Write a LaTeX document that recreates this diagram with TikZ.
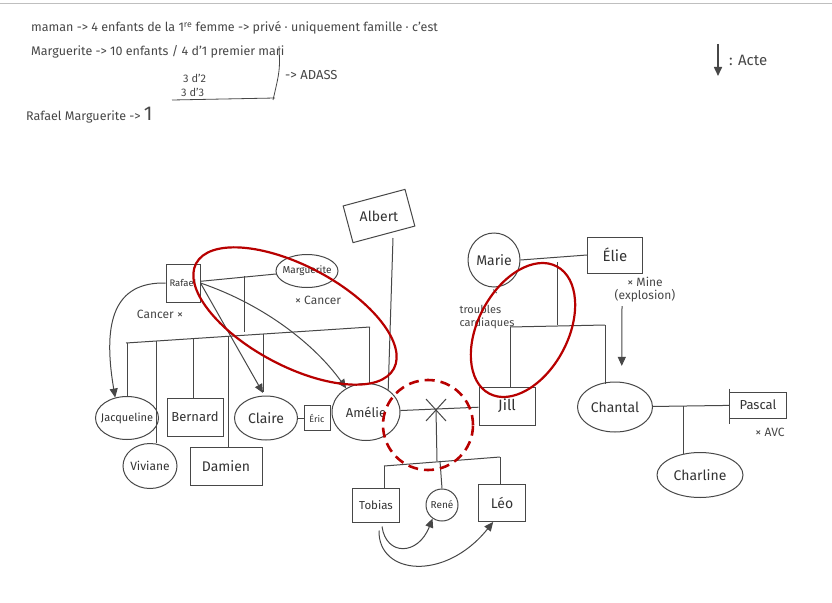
\documentclass[tikz,border=0pt]{standalone}
\usepackage{fontspec}
\setmainfont{Fira Sans}
\usetikzlibrary{shapes.geometric,arrows.meta,calc}
\newcommand{\nm}[1]{\makebox[0pt]{#1}}
\newcommand{\fs}[1]{\fontsize{#1}{#1}\selectfont}
\begin{document}
\begin{tikzpicture}[x=1pt,y=-1pt,
  ink/.style={draw=black!72, line width=1pt},
  person/.style={ink, text=black!80, font=\fs{13}, inner sep=0pt},
  male/.style={person, rectangle},
  female/.style={person, ellipse},
  act/.style={ink, -{Triangle[length=9pt,width=8pt]}},
  note/.style={text=black!72, font=\fs{12}, inner sep=1pt},
  topnote/.style={text=black!72, font=\fs{12.5}, inner sep=1pt, anchor=west},
  redring/.style={draw=red!72!black, line width=2.2pt}]
\useasboundingbox (0,0) rectangle (832,602);
\fill[white] (0,0) rectangle (832,602);
\draw[black!25, line width=1pt] (0,4) -- (832,4);

% ---- top notes ----
\node[topnote] (n1) at (30,28) {maman -> 4 enfants de la 1\textsuperscript{re} femme -> privé · uniquement famille · c'est};
\node[topnote] (n2) at (30,52) {Marguerite -> 10 enfants / 4 d'1 premier mari};
\node[topnote, font=\fs{11}] (n3) at (182,78) {3 d'2};
\node[topnote, font=\fs{11}] (n4) at (180,92) {3 d'3};
\coordinate (ul1) at (172,100);
\coordinate (ul2) at (275,98);
\draw[ink, line width=0.8pt] (ul1) -- (ul2);
\coordinate (br1) at (279,46);
\coordinate (br2) at (273,100);
\draw[ink, line width=0.8pt] (br1) .. controls (280,70) .. (br2);
\node[topnote, font=\fs{13}] (adass) at (284,75) {-> ADASS};
\node[topnote] (n5) at (25,115) {Rafael Marguerite -> \fs{20}1};

% ---- legend ----
\coordinate (lg1) at (718,44);
\coordinate (lg2) at (718,76);
\draw[act, line width=1.6pt] (lg1) -- (lg2);
\node[note, anchor=west, font=\fs{15}] (legtxt) at (728,60) {: Acte};

% ---- persons ----
\node[male, minimum width=64pt, minimum height=38pt, rotate=15] (albert) at (379,216) {};
\node[text=black!80, font=\fs{14}, inner sep=0pt] (alberttxt) at (379,216) {Albert};
\node[male, minimum width=34pt, minimum height=38pt, font=\fs{9.5}] (rafael) at (183,283) {Rafael};
\node[female, minimum width=62pt, minimum height=33pt, font=\fs{10}] (marg) at (307,271) {\nm{Marguerite}};
\node[female, minimum width=63pt, minimum height=43pt, font=\fs{11}] (jacq) at (127,418) {\nm{Jacqueline}};
\node[female, minimum width=54pt, minimum height=45pt, font=\fs{12}] (viv) at (150,466) {\nm{Viviane}};
\node[male, minimum width=56pt, minimum height=38pt] (bern) at (195,417) {Bernard};
\node[male, minimum width=72pt, minimum height=38pt, font=\fs{14}] (dam) at (226,466) {Damien};
\node[female, minimum width=63pt, minimum height=44pt, font=\fs{14}] (claire) at (266,418) {\nm{Claire}};
\node[male, minimum width=26pt, minimum height=25pt, font=\fs{9}] (eric) at (317,418) {Éric};
\node[female, minimum width=68pt, minimum height=57pt] (amelie) at (366,412) {\nm{Amélie}};
\node[male, minimum width=56pt, minimum height=38pt, font=\fs{15}] (jill) at (507,406) {Jill};
\node[male, minimum width=47pt, minimum height=34pt, font=\fs{11.5}] (tobias) at (376,505) {Tobias};
\node[person, circle, minimum size=32pt, font=\fs{10}] (rene) at (442,505) {\nm{René}};
\node[male, minimum width=47pt, minimum height=37pt, font=\fs{14}] (leo) at (502,503) {Léo};
\node[female, minimum width=52pt, minimum height=54pt, font=\fs{14}] (marie) at (494,260) {\nm{Marie}};
\node[male, minimum width=55pt, minimum height=36pt, font=\fs{15}] (elie) at (615,255) {Élie};
\node[female, minimum width=75pt, minimum height=50pt, font=\fs{14}] (chantal) at (615,407) {\nm{Chantal}};
\node[male, minimum width=57pt, minimum height=26pt] (pascal) at (758,405) {Pascal};
\node[female, minimum width=86pt, minimum height=45pt, font=\fs{14}] (charline) at (700,475) {\nm{Charline}};

% ---- notes near persons ----
\node[note] (rafnote) at (160,314) {Cancer ×};
\node[note] (margnote) at (318,300) {× Cancer};
\node[note] (marx) at (495,293) {×};
\node[note, align=left, font=\fs{11}] (mariedx) at (487,317) {troubles\\[2pt]cardiaques};
\node[note, align=center] (elienote) at (645,290) {× Mine\\[1pt](explosion)};
\node[note] (pasnote) at (770,432) {× AVC};

% ---- Rafael + Marguerite family ----
\draw[ink] (rafael) -- (marg);
\coordinate (rm) at (244,276);
\coordinate (rmd) at (244,332);
\draw[ink] (rm) -- (rmd);
\coordinate (s1l) at (126,343);
\coordinate (s1r) at (370,327);
\draw[ink] (s1l) -- (s1r);
\coordinate (dj) at (127,343);
\coordinate (dv) at (156,341);
\coordinate (db) at (193,339);
\coordinate (dd) at (228,336);
\coordinate (dc) at (263,334);
\coordinate (da) at (369,327);
\draw[ink] (dj) -- (dj |- jacq.north);
\draw[ink] (dv) -- (dv |- viv.north);
\draw[ink] (db) -- (db |- bern.north);
\draw[ink] (dd) -- (dd |- dam.north);
\draw[ink] (dc) -- (263,392);
\draw[ink] (da) -- (369,384);
% acts from Rafael
\draw[act] (rafael.west) .. controls (115,282) and (102,320) .. (jacq.120);
\draw[act] (rafael.east) -- (263,393);
\draw[act] (rafael.east) .. controls (265,305) and (315,345) .. (amelie.130);
% Albert
\coordinate (albfoot) at (393,238);
\draw[ink] (albfoot) -- (amelie.45);
% Claire - Eric
\draw[ink] (claire) -- (eric);

% ---- Amelie + Jill ----
\draw[ink] (amelie) -- (jill);
\coordinate (ajx) at (436,410);
\draw[ink] ($(ajx)+(-10,-11)$) -- ($(ajx)+(10,11)$);
\draw[ink] ($(ajx)+(10,-11)$) -- ($(ajx)+(-10,11)$);
\coordinate (ajd) at (437,461);
\draw[ink] (ajx) -- (ajd);
\coordinate (s2l) at (384,466);
\coordinate (s2r) at (500,457);
\draw[ink] (s2l) -- (s2r);
\draw[ink] (s2l) -- (s2l |- tobias.north);
\draw[ink] (440,461) -- (rene.north);
\draw[ink] (s2r) -- (s2r |- leo.north);
\draw[act] ($(tobias.south)+(6,4)$) .. controls (386,556) and (418,556) .. (rene.235);
\draw[act] ($(tobias.south)+(3,8)$) .. controls (378,575) and (445,582) .. (leo.-115);

% ---- Marie + Elie ----
\draw[ink] (marie.east) -- (elie.west);
\coordinate (me) at (557,262);
\coordinate (med) at (557,325);
\draw[ink] (me) -- (med);
\coordinate (s3l) at (510,327);
\coordinate (s3r) at (605,325);
\draw[ink] (s3l) -- (s3r);
\draw[ink] (s3l) -- (s3l |- jill.north);
\draw[ink] (s3r) -- (605,384);
\draw[act, shorten >=16pt] (622,306) -- (chantal.75);

% ---- Chantal + Pascal ----
\draw[ink] (chantal) -- (pascal);
\draw[ink] ($(pascal.north west)+(0,-3)$) -- ($(pascal.south west)+(0,5)$);
\coordinate (cp) at (683,406);
\draw[ink] (cp) -- (683,454);

% ---- red highlights ----
\draw[redring, rotate around={-28:(295,316)}] (295,316) ellipse [x radius=112pt, y radius=50pt];
\draw[redring, rotate around={62:(523,330)}] (523,330) ellipse [x radius=72pt, y radius=45pt];
\draw[redring, line width=2.6pt, dash pattern=on 10pt off 6pt] (428,425) circle [radius=45pt];
\end{tikzpicture}
\end{document}
